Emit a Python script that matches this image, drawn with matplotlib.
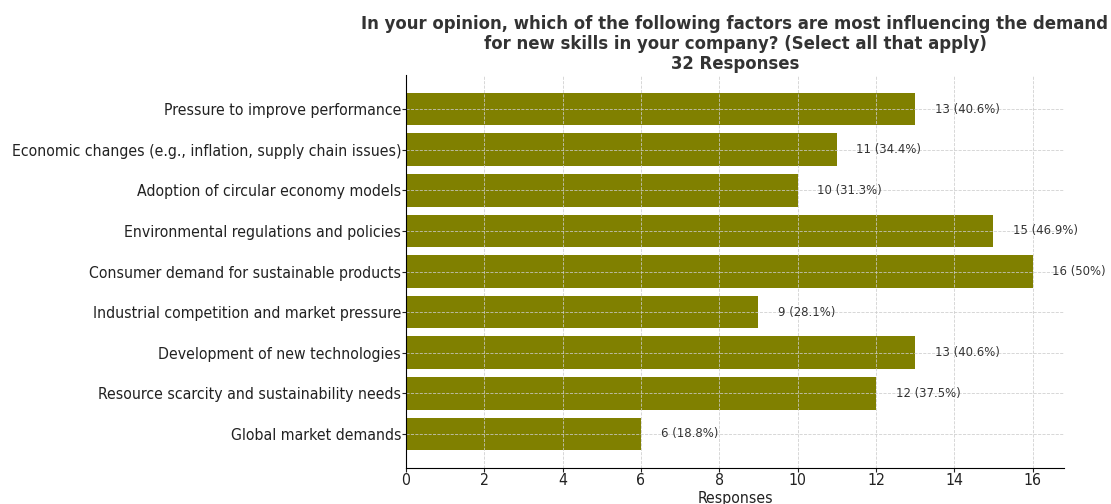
import matplotlib.pyplot as plt

# survey data
factors = [
    'Pressure to improve performance',
    'Economic changes (e.g., inflation, supply chain issues)',
    'Adoption of circular economy models',
    'Environmental regulations and policies',
    'Consumer demand for sustainable products',
    'Industrial competition and market pressure',
    'Development of new technologies',
    'Resource scarcity and sustainability needs',
    'Global market demands',
]
counts = [13, 11, 10, 15, 16, 9, 13, 12, 6]
percents = [40.6, 34.4, 31.3, 46.9, 50, 28.1, 40.6, 37.5, 18.8]
x_ticks = [0, 2, 4, 6, 8, 10, 12, 14, 16]

plt.rcParams['font.family'] = ['DejaVu Sans']
plt.rcParams['font.stretch'] = 'condensed'

fig = plt.figure(figsize=(11.11, 5.04), dpi=100)
ax = fig.add_axes([0.3654, 0.0714, 0.5923, 0.7798])

ax.barh(factors, counts, color='#808000', height=0.8)
ax.invert_yaxis()
ax.set_xlim(0, 16.8)
ax.set_xticks(x_ticks)

for i, (c, p) in enumerate(zip(counts, percents)):
    ax.text(c + 0.5, i, f'{c} ({p:g}%)', va='center', ha='left',
            fontsize=9.4, color='#333333')

ax.grid(True, linestyle='--', linewidth=0.6, color='#cccccc', alpha=0.9)
ax.spines['top'].set_visible(False)
ax.spines['right'].set_visible(False)
ax.tick_params(axis='both', labelsize=11.3, colors='#222222', length=3)
ax.tick_params(axis='x', pad=0.5)
ax.tick_params(axis='y', pad=0.5)

ax.set_xlabel('Responses', fontsize=11.3, color='#222222', labelpad=2)
ax.set_title('In your opinion, which of the following factors are most influencing the demand\n'
             'for new skills in your company? (Select all that apply)\n32 Responses',
             fontsize=13.2, fontweight='bold', color='#333333', pad=4, linespacing=1.15)

fig.savefig('out.png', dpi=100)
